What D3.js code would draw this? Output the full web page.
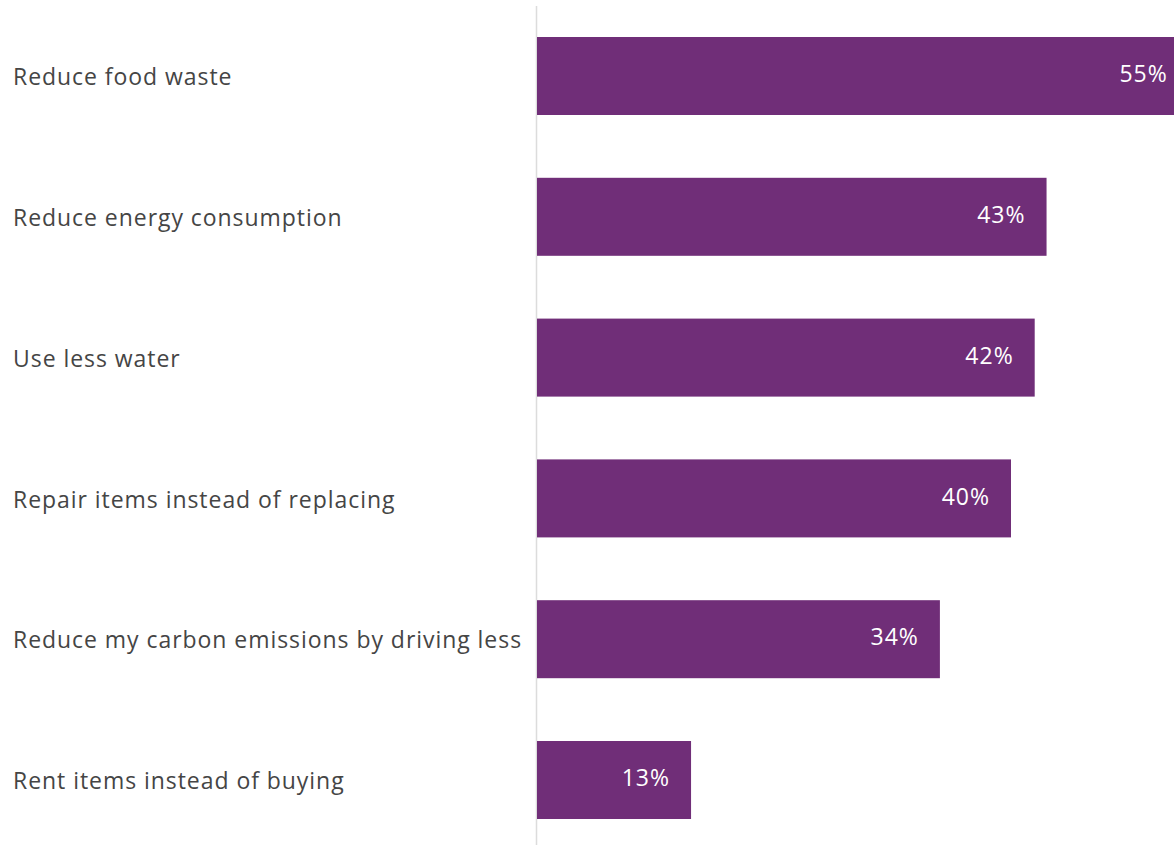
<!DOCTYPE html>
<html>
<head>
<meta charset="utf-8">
<script src="https://cdn.jsdelivr.net/npm/d3@7"></script>
<style>
  html, body { margin: 0; padding: 0; background: #fff; overflow: hidden; }
</style>
</head>
<body>
<div id="chart"></div>
<script>
const categories = [
  "Reduce food waste",
  "Reduce energy consumption",
  "Use less water",
  "Repair items instead of replacing",
  "Reduce my carbon emissions by driving less",
  "Rent items instead of buying"
];
const values = [55, 43, 42, 40, 34, 13];

const width = 1174, height = 845;
const axisX = 537;

const svg = d3.select("#chart").append("svg")
  .attr("width", width)
  .attr("height", height);

const data = categories.map((c, i) => ({ category: c, value: values[i] }));

const x = d3.scaleLinear().domain([0, 55]).range([axisX, axisX + 55 * 11.85]);
const y = d3.scaleBand().domain(categories).range([5.6, 850.4])
  .paddingInner(0.446).paddingOuter(0.223);

// baseline
svg.append("line")
  .attr("x1", axisX - 0.5).attr("x2", axisX - 0.5)
  .attr("y1", 6).attr("y2", height)
  .attr("stroke", "#dcdcdc")
  .attr("stroke-width", 1.5);

svg.append("g")
  .selectAll("rect")
  .data(data)
  .join("rect")
    .attr("x", x(0))
    .attr("y", d => y(d.category))
    .attr("width", d => x(d.value) - x(0))
    .attr("height", y.bandwidth())
    .attr("fill", "#702e78");

svg.append("g")
  .selectAll("text")
  .data(data)
  .join("text")
    .attr("x", 13)
    .attr("y", d => y(d.category) + y.bandwidth() / 2 + 3)
    .attr("dominant-baseline", "middle")
    .attr("font-family", "'Open Sans', sans-serif")
    .attr("font-size", "23px")
    .attr("letter-spacing", "0.95px")
    .attr("fill", "#454545")
    .text(d => d.category);

svg.append("g")
  .selectAll("text")
  .data(data)
  .join("text")
    .attr("x", d => x(d.value) - 21)
    .attr("y", d => y(d.category) + y.bandwidth() / 2)
    .attr("text-anchor", "end")
    .attr("dominant-baseline", "middle")
    .attr("font-family", "'Open Sans', sans-serif")
    .attr("font-size", "23px")
    .attr("letter-spacing", "1px")
    .attr("fill", "#fff")
    .text(d => d.value + "%");
</script>
</body>
</html>
